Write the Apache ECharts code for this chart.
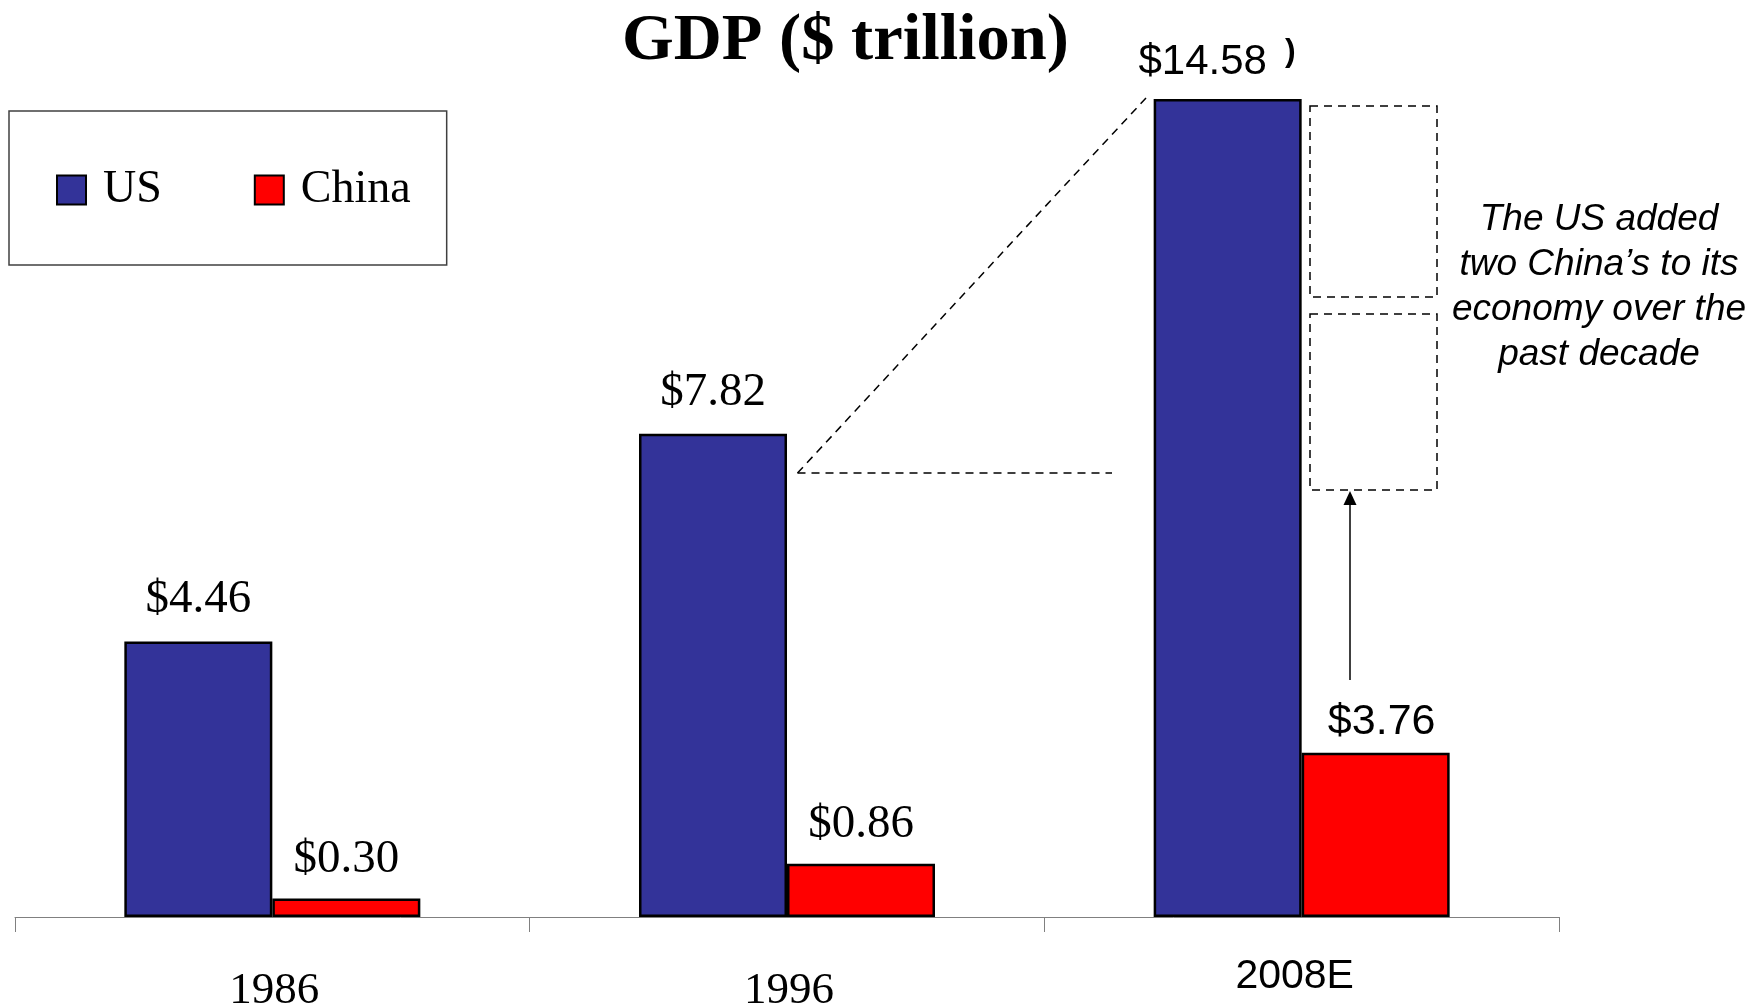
<!DOCTYPE html>
<html>
<head>
<meta charset="utf-8">
<script src="https://cdn.jsdelivr.net/npm/echarts@6/dist/echarts.min.js"></script>
<style>
  html, body { margin: 0; padding: 0; background: #fff; }
  #chart { width: 1762px; height: 1007px; }
</style>
</head>
<body>
<div id="chart"></div>
<script>
// ---- data ----
const categories = ['1986', '1996', '2008E'];
// bar lengths as drawn in the picture (trillion $ on the drawn scale)
const usBar = [4.46, 7.82, 13.24];
const chinaBar = [0.30, 0.86, 2.66];
// value labels printed above the bars
const usLabels = ['$4.46', '$7.82', '$14.58'];
const chinaLabels = ['$0.30', '$0.86', '$3.76'];
const seriesNames = ['US', 'China'];
const titleText = 'GDP ($ trillion)';
const noteText = 'The US added\ntwo China\u2019s to its\neconomy over the\npast decade';

const SERIF = "'Liberation Serif', 'Times New Roman', serif";
const SANS = "'Liberation Sans', Arial, sans-serif";

function labelFor(i, txt, isUS) {
  const last = i === 2;
  if (!last) {
    return { show: true, position: 'top', distance: isUS ? 18 : 15.5, formatter: txt,
             fontFamily: SERIF, fontSize: 47, color: '#000' };
  }
  return isUS
    ? { show: true, position: 'top', distance: 16, offset: [-25, 0], formatter: txt,
        fontFamily: SANS, fontSize: 42, color: '#000' }
    : { show: true, position: 'top', distance: 9, offset: [6, 0], formatter: txt,
        fontFamily: SANS, fontSize: 43, color: '#000' };
}

const chart = echarts.init(document.getElementById('chart'), null, { renderer: 'canvas' });

const option = {
  animation: false,
  backgroundColor: '#fff',
  title: {
    text: titleText,
    left: 622, top: 8, padding: 0,
    textStyle: { fontFamily: SERIF, fontWeight: 'bold', fontSize: 66.5, color: '#000' }
  },
  legend: {
    data: seriesNames,
    left: 9, top: 111,
    orient: 'horizontal',
    icon: 'rect',
    itemWidth: 29, itemHeight: 29, itemGap: 92,
    padding: [56, 36, 52, 47],
    borderColor: '#404040', borderWidth: 1.5,
    selectedMode: false,
    textStyle: { fontFamily: SERIF, fontSize: 46, color: '#000', padding: [0, 0, 0, 12] }
  },
  grid: { left: 15, right: 203, top: 52, bottom: 90, containLabel: false, outerBoundsMode: 'none' },
  xAxis: {
    type: 'category',
    data: categories,
    boundaryGap: true,
    axisLine: { show: true, lineStyle: { color: '#808080', width: 1 } },
    axisTick: { show: true, length: 15, alignWithLabel: false, lineStyle: { color: '#808080', width: 1 } },
    axisLabel: {
      margin: 34,
      formatter: function (v) { return v === '2008E' ? '{s|' + v + '}' : '{t|' + v + '}'; },
      rich: {
        t: { fontFamily: SERIF, fontSize: 45, lineHeight: 45, color: '#000', padding: [36, 0, 0, 4] },
        s: { fontFamily: SANS, fontSize: 41, lineHeight: 41, color: '#000', padding: [9.5, 14, 0, 0] }
      }
    },
    splitLine: { show: false }
  },
  yAxis: {
    type: 'value', min: 0, max: 14,
    show: false,
    splitLine: { show: false }
  },
  series: [
    {
      name: seriesNames[0], type: 'bar',
      barWidth: 148, barGap: '0%',
      itemStyle: { color: '#333399', borderColor: '#000', borderWidth: 2.5 },
      data: usBar.map((v, i) => ({ value: v, label: labelFor(i, usLabels[i], true) }))
    },
    {
      name: seriesNames[1], type: 'bar',
      barWidth: 148, barGap: '0%',
      itemStyle: { color: '#FF0000', borderColor: '#000', borderWidth: 2.5 },
      data: chinaBar.map((v, i) => ({ value: v, label: labelFor(i, chinaLabels[i], false) }))
    }
  ],
  graphic: [
    { type: 'line', shape: { x1: 797.5, y1: 473, x2: 1146, y2: 98 },
      style: { stroke: '#000', lineWidth: 1.5, lineDash: [8, 6] }, z: 10 },
    { type: 'line', shape: { x1: 797.5, y1: 473, x2: 1112, y2: 473 },
      style: { stroke: '#000', lineWidth: 1.5, lineDash: [8, 6] }, z: 10 },
    { type: 'rect', shape: { x: 1310, y: 106, width: 127, height: 191 },
      style: { fill: null, stroke: '#000', lineWidth: 1.5, lineDash: [8, 6] }, z: 10 },
    { type: 'rect', shape: { x: 1310, y: 314, width: 127, height: 176 },
      style: { fill: null, stroke: '#000', lineWidth: 1.5, lineDash: [8, 6] }, z: 10 },
    { type: 'line', shape: { x1: 1350, y1: 503, x2: 1350, y2: 680 },
      style: { stroke: '#000', lineWidth: 1.5 }, z: 10 },
    { type: 'polygon', shape: { points: [[1350, 491], [1343.5, 505], [1356.5, 505]] },
      style: { fill: '#000' }, z: 10 },
    { type: 'text', x: 1599, y: 197, z: 10,
      style: { text: noteText, textAlign: 'center', textVerticalAlign: 'top',
               font: "italic 37px 'Liberation Sans', Arial, sans-serif",
               lineHeight: 45, fill: '#000' } },
    { type: 'text', x: 1285, y: 36, z: 10,
      style: { text: ')', font: "bold 32px 'Liberation Sans', Arial, sans-serif", fill: '#000' } }
  ]
};

chart.setOption(option);
</script>
</body>
</html>
